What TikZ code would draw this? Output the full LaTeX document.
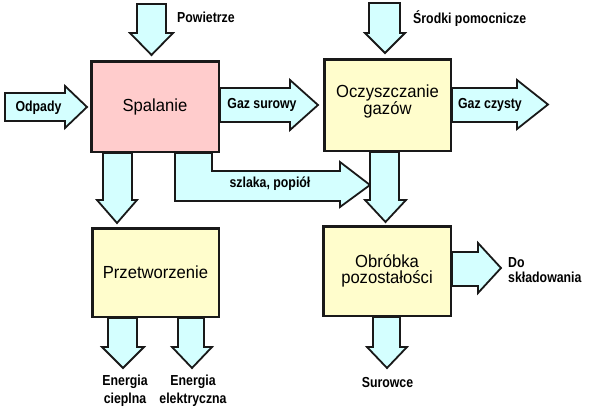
\documentclass[tikz,border=0pt]{standalone}
\usepackage{fontspec}
\setmainfont{Liberation Sans}
\newfontfamily\boxfont{Liberation Sans}[FakeStretch=0.95]
\newfontfamily\lblfont{Liberation Sans}[FakeStretch=0.85]
\definecolor{pinkfill}{RGB}{255,204,204}
\definecolor{yellowfill}{RGB}{255,253,204}
\definecolor{cyanfill}{RGB}{212,255,255}
\definecolor{edge}{RGB}{25,25,25}
\tikzset{
 box/.style={draw=edge, line width=2.5pt, fill=yellowfill, inner sep=0pt, align=center,
   font=\boxfont\fontsize{17.5}{16}\selectfont},
 boxtxt/.style={inner sep=0pt, align=center, font=\boxfont\fontsize{17.5}{16}\selectfont},
 flow/.style={draw=edge, line width=1.8pt, fill=cyanfill, line join=miter},
 lbl/.style={inner sep=0pt, align=center, font=\lblfont\bfseries\fontsize{14.5}{18}\selectfont},
}
% down arrow: shaft x1,x2 ; top y ; head base y ; head left, head right ; tip y
\newcommand\downarr[7]{\draw[flow] (#1,#3) -- (#1,#4) -- (#5,#4) -- ({(#5+#6)/2},#7) -- (#6,#4) -- (#2,#4) -- (#2,#3) -- cycle;}
% right arrow: shaft y1,y2 ; left x ; head base x ; head top, head bottom ; tip x
\newcommand\rightarr[7]{\draw[flow] (#3,#1) -- (#4,#1) -- (#4,#5) -- (#7,{(#5+#6)/2}) -- (#4,#6) -- (#4,#2) -- (#3,#2) -- cycle;}
\begin{document}
\begin{tikzpicture}[x=1pt,y=-1pt]
\useasboundingbox[fill=white] (0,0) rectangle (592,416);
% flows
\downarr{137}{166}{4}{33}{130}{173}{55}
\rightarr{93}{121}{5}{65}{86}{128}{87}
\rightarr{88}{122}{220}{290}{80}{130}{318}
\downarr{369}{400}{3}{33}{365}{405}{53}
\rightarr{88}{122}{452}{517}{80}{129}{548}
\downarr{103}{132}{153}{200}{97}{137}{223}
\draw[flow] (175,153) -- (175,201) -- (340,201) -- (340,207) -- (370,185) -- (340,162) -- (340,171) -- (212,171) -- (212,153) -- cycle;
\downarr{370}{399}{152}{200}{365}{406}{222}
\downarr{108}{137}{318}{347}{102}{144}{368}
\downarr{178}{204}{318}{347}{172}{212}{368}
\rightarr{252}{286}{452}{478}{243}{293}{501}
\downarr{373}{400}{317}{347}{367}{407}{368}
% boxes
\node[box, fill=pinkfill, minimum width=127.5pt, minimum height=90.5pt] (spal) at (155,106.5) {Spalanie};
\node[box, minimum width=126.5pt, minimum height=91.5pt] (oczy) at (387.5,105) {};
\node[boxtxt] (oczytxt) at ([yshift=3.5pt]oczy.center) {Oczyszczanie\\gazów};
\node[box, minimum width=126.5pt, minimum height=88.5pt] (przet) at (155.5,272.5) {Przetworzenie};
\node[box, minimum width=127.5pt, minimum height=89.5pt] (obr) at (387,271) {Obróbka\\pozostałości};
% labels
\node[lbl, anchor=west] (powietrze) at (177,17) {Powietrze};
\node[lbl, anchor=west] (srodki) at (413,19) {Środki pomocnicze};
\node[lbl] (odpady) at (38.5,108) {Odpady};
\node[lbl] (gazs) at (262,105) {Gaz surowy};
\node[lbl] (gazc) at (490,105) {Gaz czysty};
\node[lbl] (szlaka) at (270,184) {szlaka, popiół};
\node[lbl] (ecie) at (125,391) {Energia\\cieplna};
\node[lbl] (eel) at (193,391) {Energia\\elektryczna};
\node[lbl, align=left, anchor=west, font=\lblfont\bfseries\fontsize{14.5}{15}\selectfont] (dosk) at (508,270.5) {Do\\składowania};
\node[lbl] (surowce) at (387.5,383) {Surowce};
\end{tikzpicture}
\end{document}
